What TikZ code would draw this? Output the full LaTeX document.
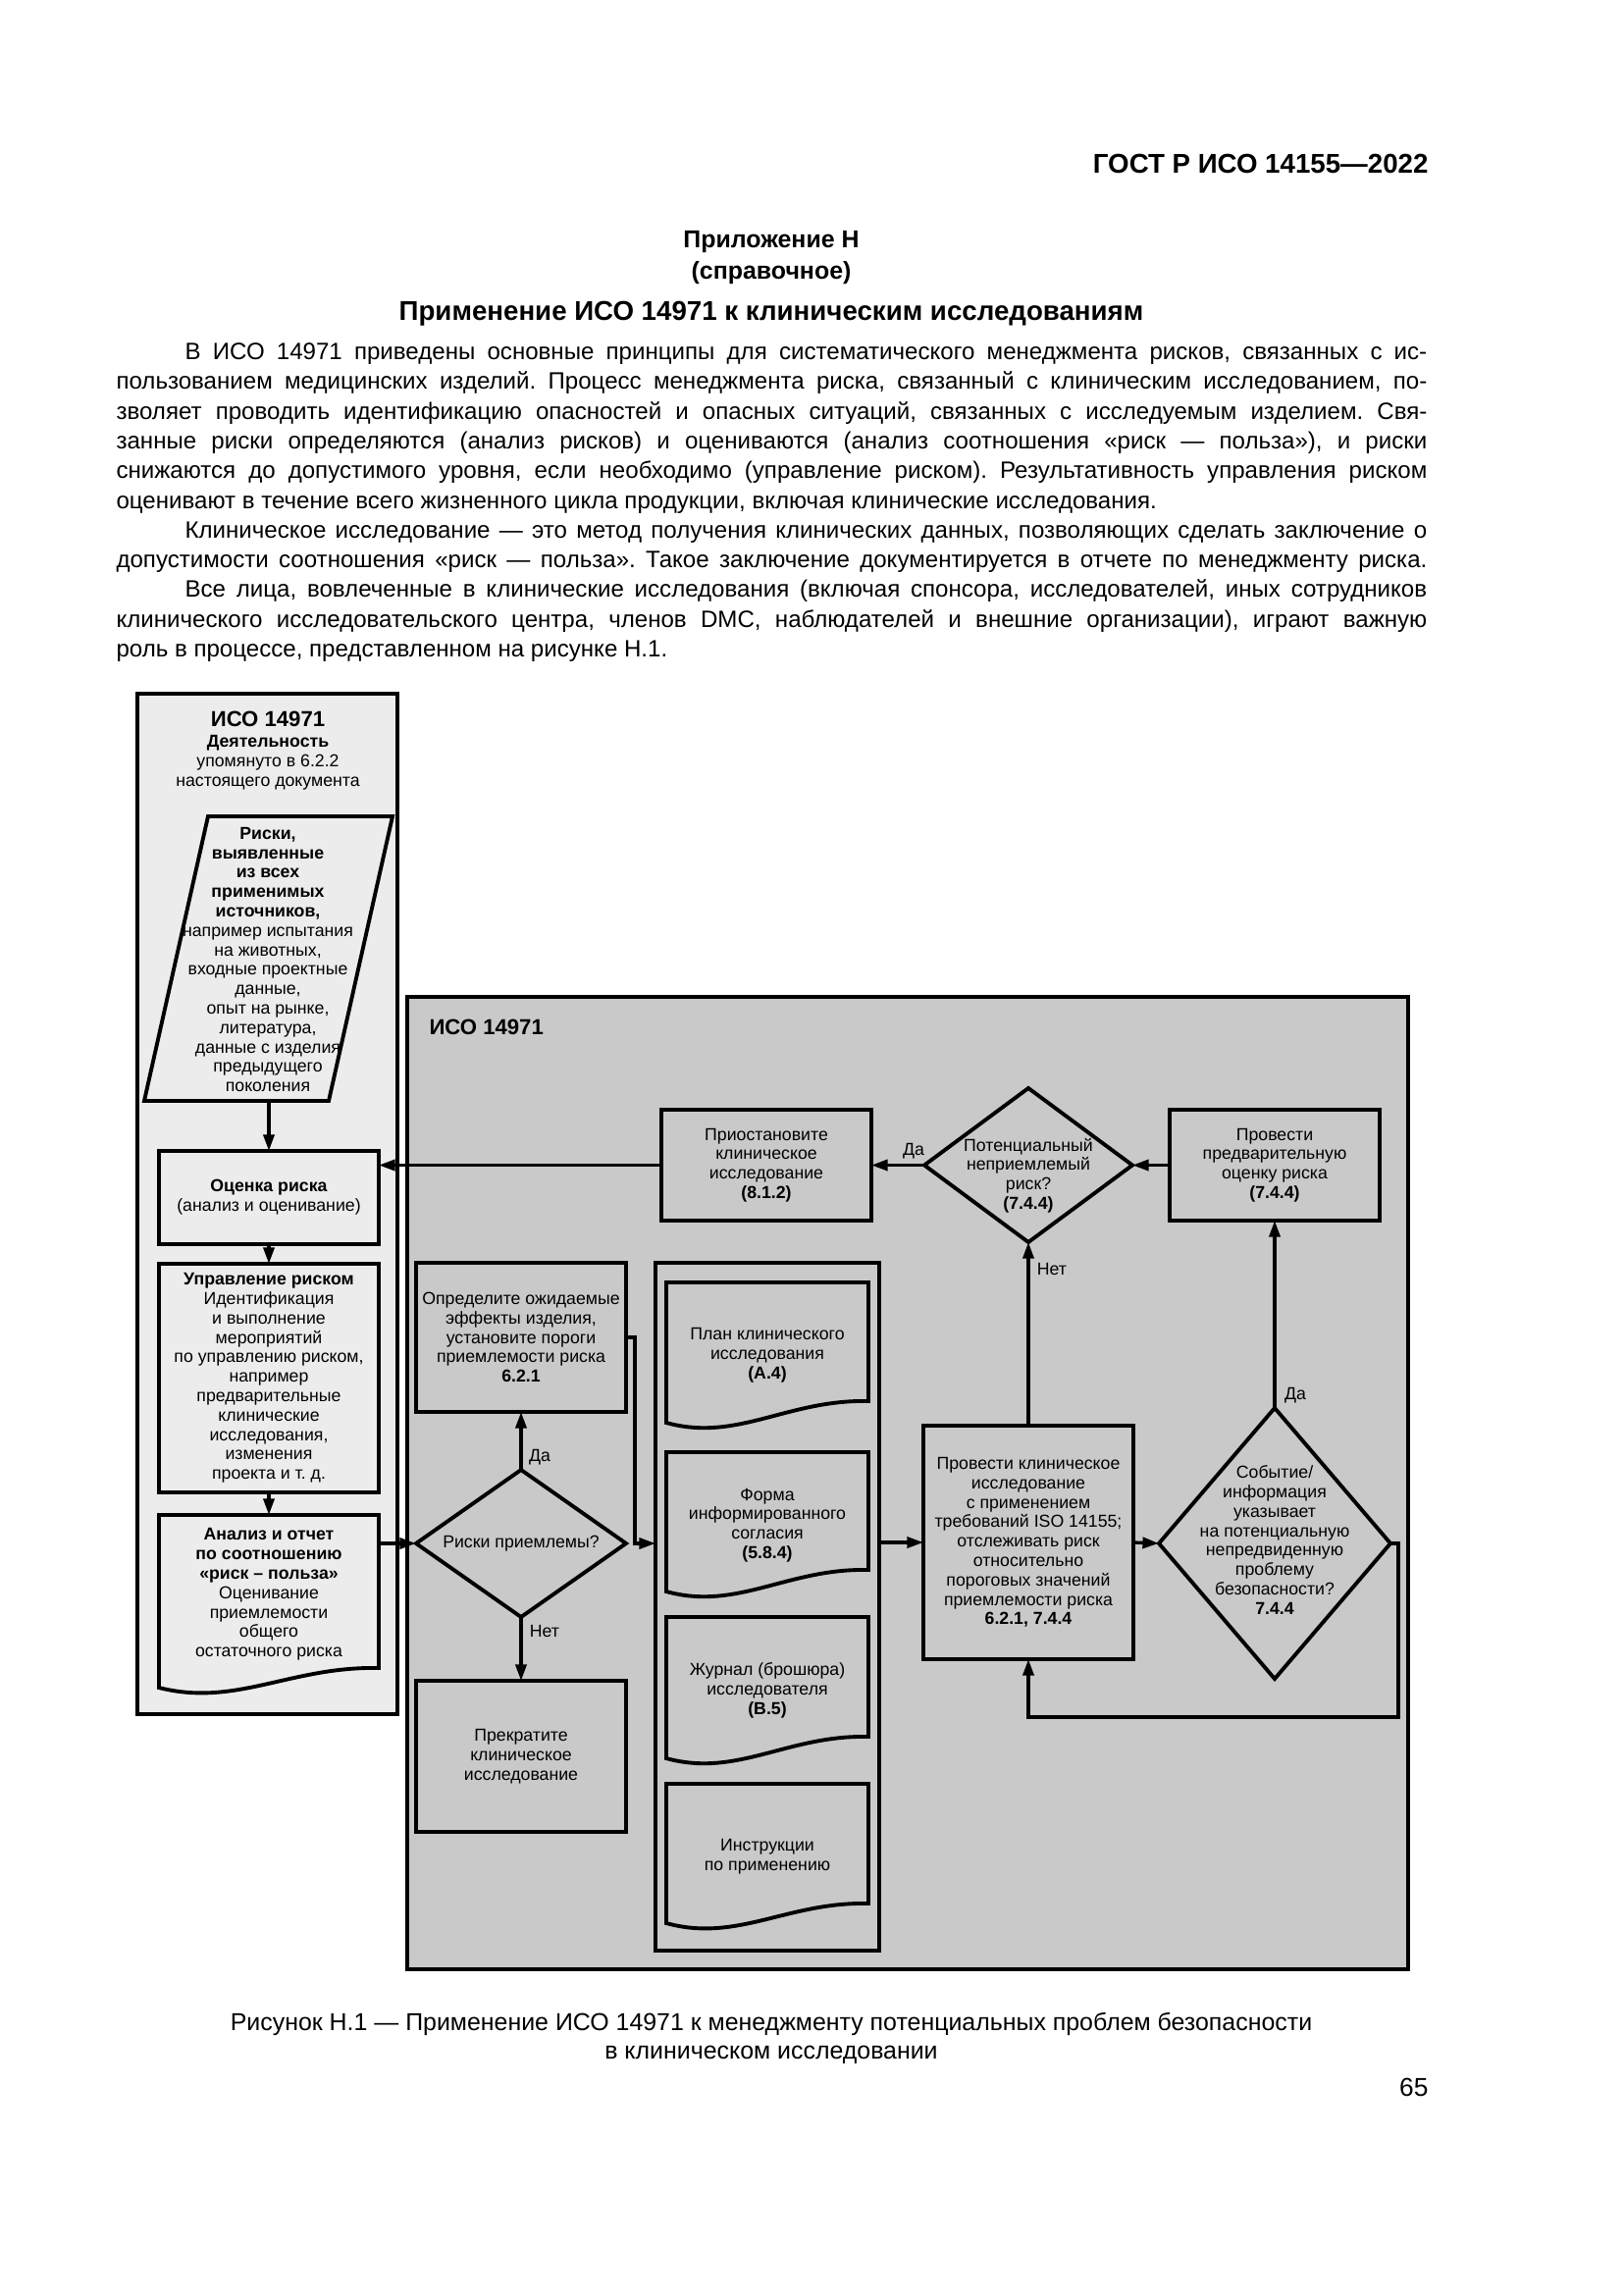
\documentclass[tikz,border=0pt]{standalone}
\usepackage{fontspec}
\setmainfont{Liberation Sans}
\frenchspacing
\usetikzlibrary{arrows.meta,shapes.geometric}
\definecolor{lightfill}{RGB}{236,236,236}
\definecolor{darkfill}{RGB}{201,201,201}
\tikzset{
  shp/.style={draw=black, line width=1.4pt},
  conn/.style={draw=black, line width=1.2pt, -{Triangle[length=6pt,width=4pt]}},
  dtxt/.style={font=\fontsize{6.4}{7.15}\selectfont, align=center, inner sep=0pt},
  lbl/.style={font=\fontsize{6.4}{7.15}\selectfont, inner sep=0pt},
  body/.style={font=\fontsize{8.7}{10.9}\selectfont, inner sep=0pt, anchor=base west},
  boxsz/.style 2 args={minimum width=#1*0.126965mm, minimum height=#2*0.126965mm, inner sep=0pt, outer sep=0pt},
}
\newcommand\docpath[6]{\draw[shp, fill=#6] (#1,#3) -- (#2,#3) -- (#2,{#4-#5}) .. controls ({#2-0.4*(#2-#1)},{#4-#5-2}) and ({#1+0.35*(#2-#1)},{#4+20}) .. (#1,#4) -- cycle;}
\begin{document}
\begin{tikzpicture}[x=0.126965mm, y=-0.126965mm]
\useasboundingbox[fill=white] (0,0) rectangle (1654,2339);

% ---------- page text ----------
\node[font=\fontsize{10}{12}\selectfont\bfseries, inner sep=0pt, anchor=base east] (hdr) at (1456,177) {ГОСТ Р ИСО 14155—2022};
\node[font=\fontsize{9}{11}\selectfont\bfseries, inner sep=0pt, anchor=base] (app) at (786,253) {Приложение Н};
\node[font=\fontsize{9}{11}\selectfont\bfseries, inner sep=0pt, anchor=base] (appk) at (786,284) {(справочное)};
\node[font=\fontsize{10}{12}\selectfont\bfseries, inner sep=0pt, anchor=base] (ttl) at (786,326) {Применение ИСО 14971 к клиническим исследованиям};

\node[body] (b1) at (188,366.5) {\makebox[160.7mm][s]{В ИСО 14971 приведены основные принципы для систематического менеджмента рисков, связанных с ис-}};
\node[body] (b2) at (118,396.8) {\makebox[169.6mm][s]{пользованием медицинских изделий. Процесс менеджмента риска, связанный с клиническим исследованием, по-}};
\node[body] (b3) at (118,427.1) {\makebox[169.6mm][s]{зволяет проводить идентификацию опасностей и опасных ситуаций, связанных с исследуемым изделием. Свя-}};
\node[body] (b4) at (118,457.4) {\makebox[169.6mm][s]{занные риски определяются (анализ рисков) и оцениваются (анализ соотношения «риск — польза»), и риски}};
\node[body] (b5) at (118,487.7) {\makebox[169.6mm][s]{снижаются до допустимого уровня, если необходимо (управление риском). Результативность управления риском}};
\node[body] (b6) at (118,518.0) {оценивают в течение всего жизненного цикла продукции, включая клинические исследования.};
\node[body] (b7) at (188,548.3) {\makebox[160.7mm][s]{Клиническое исследование — это метод получения клинических данных, позволяющих сделать заключение о}};
\node[body] (b8) at (118,578.6) {\makebox[169.6mm][s]{допустимости соотношения «риск — польза». Такое заключение документируется в отчете по менеджменту риска.}};
\node[body] (b9) at (188,608.9) {\makebox[160.7mm][s]{Все лица, вовлеченные в клинические исследования (включая спонсора, исследователей, иных сотрудников}};
\node[body] (b10) at (118,639.2) {\makebox[169.6mm][s]{клинического исследовательского центра, членов DMC, наблюдателей и внешние организации), играют важную}};
\node[body] (b11) at (118,669.5) {роль в процессе, представленном на рисунке Н.1.};

\node[font=\fontsize{9}{10.9}\selectfont, inner sep=0pt, anchor=base] (cap1) at (786,2069) {Рисунок Н.1 — Применение ИСО 14971 к менеджменту потенциальных проблем безопасности};
\node[font=\fontsize{9}{10.9}\selectfont, inner sep=0pt, anchor=base] (cap2) at (786,2098) {в клиническом исследовании};
\node[font=\fontsize{9.5}{11}\selectfont, inner sep=0pt, anchor=base east] (pgno) at (1456,2136) {65};

% ---------- containers ----------
\node[draw=black, line width=1.2pt, fill=darkfill, boxsz={1020}{991}] (bbox) at (925,1511.5) {};
\node[draw=black, line width=1.2pt, fill=lightfill, boxsz={265}{1040}] (lbox) at (272.5,1227) {};

% ---------- left column ----------
\node[font=\fontsize{8}{9.6}\selectfont\bfseries, inner sep=0pt] (lt1) at (273,733) {ИСО 14971};
\node[dtxt] (lt2) at (273,777) {\textbf{Деятельность}\\упомянуто в 6.2.2\\настоящего документа};

\node[boxsz={253}{290}] (para) at (273.5,977) {};
\draw[shp, fill=lightfill] (212,832) -- (400,832) -- (335,1122) -- (147,1122) -- cycle;
\node[dtxt] (parat) at (273,978) {\textbf{Риски,}\\\textbf{выявленные}\\\textbf{из всех}\\\textbf{применимых}\\\textbf{источников,}\\например испытания\\на животных,\\входные проектные\\данные,\\опыт на рынке,\\литература,\\данные с изделия\\предыдущего\\поколения};

\node[shp, fill=lightfill, boxsz={224}{95}, dtxt] (ocen) at (274,1220.5) {\textbf{Оценка риска}\\(анализ и оценивание)};
\node[shp, fill=lightfill, boxsz={224}{233}, dtxt] (upr) at (274,1404.5) {\textbf{Управление риском}\\Идентификация\\и выполнение\\мероприятий\\по управлению риском,\\например\\предварительные\\клинические\\исследования,\\изменения\\проекта и т. д.};

\node[boxsz={224}{176}] (an) at (274,1632) {};
\docpath{162}{386}{1544}{1720}{20}{lightfill}
\node[dtxt] (ant) at (274,1625) {\textbf{Анализ и отчет}\\\textbf{по соотношению}\\\textbf{«риск – польза»}\\Оценивание\\приемлемости\\общего\\остаточного риска};

% ---------- big box ----------
\node[font=\fontsize{8}{9.6}\selectfont\bfseries, inner sep=0pt, anchor=west] (bt) at (437,1047) {ИСО 14971};

\node[shp, fill=darkfill, boxsz={214}{113}, dtxt] (P) at (781,1187.5) {Приостановите\\клиническое\\исследование\\\textbf{(8.1.2)}};
\node[shp, fill=darkfill, shape=diamond, boxsz={212}{157}] (d1) at (1048,1187.5) {};
\node[dtxt] (d1t) at (1048,1198) {Потенциальный\\неприемлемый\\риск?\\\textbf{(7.4.4)}};
\node[shp, fill=darkfill, boxsz={214}{113}, dtxt] (V) at (1299,1187.5) {Провести\\предварительную\\оценку риска\\\textbf{(7.4.4)}};

\node[shp, fill=darkfill, boxsz={214}{152}, dtxt] (O) at (531,1363) {Определите ожидаемые\\эффекты изделия,\\установите пороги\\приемлемости риска\\\textbf{6.2.1}};
\node[shp, fill=darkfill, shape=diamond, boxsz={214}{150}] (d0) at (531,1573) {};
\node[dtxt] (d0t) at (531,1573) {Риски приемлемы?};
\node[shp, fill=darkfill, boxsz={214}{154}, dtxt] (K) at (531,1790) {Прекратите\\клиническое\\исследование};

\node[shp, fill=darkfill, boxsz={228}{701}] (C) at (782,1637.5) {};
\docpath{679}{885}{1307}{1450}{22}{darkfill}
\node[dtxt] (c1t) at (782,1381) {План клинического\\исследования\\\textbf{(A.4)}};
\docpath{679}{885}{1480}{1622}{22}{darkfill}
\node[dtxt] (c2t) at (782,1554.5) {Форма\\информированного\\согласия\\\textbf{(5.8.4)}};
\docpath{679}{885}{1648}{1792}{22}{darkfill}
\node[dtxt] (c3t) at (782,1723) {Журнал (брошюра)\\исследователя\\\textbf{(B.5)}};
\docpath{679}{885}{1818}{1960}{20}{darkfill}
\node[dtxt] (c4t) at (782,1892) {Инструкции\\по применению};

\node[shp, fill=darkfill, boxsz={214}{238}, dtxt] (R) at (1048,1572) {Провести клиническое\\исследование\\с применением\\требований ISO 14155;\\отслеживать риск\\относительно\\пороговых значений\\приемлемости риска\\\textbf{6.2.1, 7.4.4}};
\node[shp, fill=darkfill, shape=diamond, boxsz={236}{276}] (d2) at (1299,1573) {};
\node[dtxt] (d2t) at (1299,1569.5) {Событие/\\информация\\указывает\\на потенциальную\\непредвиденную\\проблему\\безопасности?\\\textbf{7.4.4}};

% ---------- connectors ----------
\draw[conn] (para.south -| ocen.north) -- (ocen.north);
\draw[conn] (ocen.south) -- (upr.north);
\draw[conn] (upr.south) -- (an.north);
\draw[conn] (d0.west -| an.east) -- (d0.west);
\draw[conn] (P.west) -- (P.west -| ocen.east);
\draw[conn] (d1.west) -- (P.east);
\draw[conn] (V.west) -- (d1.east);
\draw[conn] (d0.north) -- (O.south);
\draw[conn] (d0.south) -- (K.north);
\draw[conn] (O.east) -- ++(9,0) |- (C.west |- d0.east);
\draw[conn] (C.east |- R.west) -- (R.west);
\draw[conn] (R.north) -- (d1.south);
\draw[conn] (R.east) -- (d2.west);
\draw[conn] (d2.north) -- (V.south);
\draw[conn] (d2.east) -- ++(8,0) -- ++(0,177) -| (R.south);

% ---------- labels ----------
\node[lbl] (l1) at (931,1173) {Да};
\node[lbl] (l2) at (550,1485) {Да};
\node[lbl] (l3) at (555,1662) {Нет};
\node[lbl] (l4) at (1072,1293) {Нет};
\node[lbl] (l5) at (1320,1422) {Да};
\end{tikzpicture}
\end{document}
